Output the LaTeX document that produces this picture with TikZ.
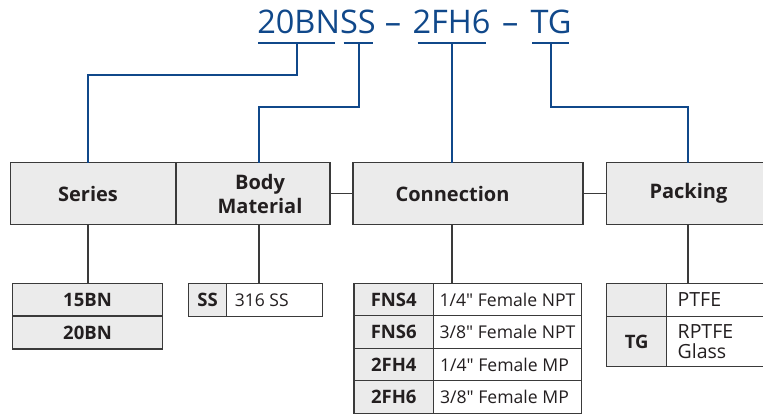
\documentclass[tikz,border=0pt]{standalone}
\usepackage{fontspec}
\setmainfont{Open Sans}
\definecolor{codeblue}{HTML}{10488A}
\definecolor{edgegray}{HTML}{3A3A3A}
\definecolor{cellgray}{HTML}{EBEBEB}
\definecolor{inkdark}{HTML}{231F20}
\begin{document}
\begin{tikzpicture}[x=1pt,y=-1pt,
  titletext/.style={inner sep=0pt, anchor=base, text=codeblue, font=\fontsize{32.5}{36}\selectfont},
  bluelink/.style={draw=codeblue, line width=1.8pt},
  graylink/.style={draw=edgegray, line width=1.3pt},
  headbox/.style={draw=edgegray, fill=cellgray, line width=1.3pt, inner sep=0pt, outer sep=0pt, anchor=north west},
  graycell/.style={draw=edgegray, fill=cellgray, line width=1.2pt, inner sep=0pt, outer sep=0pt, anchor=north west},
  whitecell/.style={draw=edgegray, fill=white, line width=1.2pt, inner sep=0pt, outer sep=0pt, anchor=north west},
  headtext/.style={inner sep=0pt, text=inkdark, font=\bfseries\fontsize{20}{24}\selectfont, align=center},
  codetext/.style={inner sep=0pt, text=inkdark, font=\bfseries\fontsize{18.5}{22}\selectfont},
  desctext/.style={inner sep=0pt, text=inkdark, font=\fontsize{17.6}{20}\selectfont},
  packtext/.style={inner sep=0pt, text=inkdark, font=\fontsize{19.5}{20}\selectfont, align=left, anchor=west}
]
\useasboundingbox (0,0) rectangle (763,418);
\begin{scope}
\clip (0,0) rectangle (763,418);

% title
\node[titletext] (t1) at (316.5,33.3) {20BNSS};
\node[titletext] (t2) at (393,33.3) {–};
\node[titletext] (t3) at (451.5,33.3) {2FH6};
\node[titletext] (t4) at (510.3,33.3) {–};
\node[titletext] (t5) at (551,33.3) {TG};

% underlines
\coordinate (u1a) at (258,43); \coordinate (u1b) at (335,43);
\coordinate (u2a) at (343.5,43); \coordinate (u2b) at (373,43);
\coordinate (u3a) at (417.5,43); \coordinate (u3b) at (485.6,43);
\coordinate (u4a) at (532,43); \coordinate (u4b) at (569,43);
\draw[bluelink] (u1a) -- (u1b);
\draw[bluelink] (u2a) -- (u2b);
\draw[bluelink] (u3a) -- (u3b);
\draw[bluelink] (u4a) -- (u4b);

% header boxes
\node[headbox, minimum width=165.3pt, minimum height=62pt] (series) at (10.7,162.7) {};
\node[headbox, minimum width=154pt, minimum height=62pt] (body) at (176,162.7) {};
\node[headbox, minimum width=230pt, minimum height=62pt] (conn) at (353,162.7) {};
\node[headbox, minimum width=200pt, minimum height=62pt] (pack) at (606.7,162.7) {};
\node[headtext] (seriesL) at (88,194) {Series};
\node[headtext] (bodyL) at (260,194) {Body\\Material};
\node[headtext] (connL) at (452.5,194) {Connection};
\node[headtext] (packL) at (688.5,193) {Packing};

% blue connectors
\coordinate (s1) at (297,43); \coordinate (j1) at (88,75);
\coordinate (s2) at (359,43); \coordinate (j2) at (259,107);
\coordinate (s3) at (452,43);
\coordinate (s4) at (551,43); \coordinate (j4) at (688,107);
\draw[bluelink] (s1) |- (j1) -- (j1 |- series.north);
\draw[bluelink] (s2) |- (j2) -- (j2 |- body.north);
\draw[bluelink] (s3) -- (s3 |- conn.north);
\draw[bluelink] (s4) |- (j4) -- (j4 |- pack.north);

% gray links between header boxes
\draw[graylink] (body.east) -- (conn.west);
\draw[graylink] (conn.east) -- (pack.west);

% series table
\node[graycell, minimum width=150.4pt, minimum height=32.7pt] (sr1) at (12.3,283.3) {};
\node[graycell, minimum width=150.4pt, minimum height=33pt] (sr2) at (12.3,316) {};
\node[codetext] (sr1L) at (sr1.center) {15BN};
\node[codetext] (sr2L) at (sr2.center) {20BN};

% body material table
\node[graycell, minimum width=38.4pt, minimum height=33pt] (ssA) at (188.3,283.3) {};
\node[whitecell, minimum width=95.6pt, minimum height=33pt] (ssB) at (226.7,283.3) {};
\node[codetext] (ssAL) at (ssA.center) {SS};
\node[desctext, anchor=west, font=\fontsize{17.5}{20}\selectfont] (ssBL) at (234.7,300) {316 SS};

% connection table
\node[graycell, minimum width=79.5pt, minimum height=32.5pt] (cA1) at (354,283.3) {};
\node[graycell, minimum width=79.5pt, minimum height=32.5pt] (cA2) at (354,315.8) {};
\node[graycell, minimum width=79.5pt, minimum height=32.5pt] (cA3) at (354,348.3) {};
\node[graycell, minimum width=79.5pt, minimum height=32.5pt] (cA4) at (354,380.8) {};
\node[whitecell, minimum width=148pt, minimum height=32.5pt] (cB1) at (433.5,283.3) {};
\node[whitecell, minimum width=148pt, minimum height=32.5pt] (cB2) at (433.5,315.8) {};
\node[whitecell, minimum width=148pt, minimum height=32.5pt] (cB3) at (433.5,348.3) {};
\node[whitecell, minimum width=148pt, minimum height=32.5pt] (cB4) at (433.5,380.8) {};
\node[codetext] (cA1L) at (cA1.center) {FNS4};
\node[codetext] (cA2L) at (cA2.center) {FNS6};
\node[codetext] (cA3L) at (cA3.center) {2FH4};
\node[codetext] (cA4L) at (cA4.center) {2FH6};
\node[desctext] (cB1L) at (cB1.center) {1/4\textquotedbl\ Female NPT};
\node[desctext] (cB2L) at (cB2.center) {3/8\textquotedbl\ Female NPT};
\node[desctext] (cB3L) at ([xshift=-3pt]cB3.center) {1/4\textquotedbl\ Female MP};
\node[desctext] (cB4L) at ([xshift=-3pt]cB4.center) {3/8\textquotedbl\ Female MP};

% packing table
\node[graycell, minimum width=60pt, minimum height=33.2pt] (pA1) at (606.7,283.3) {};
\node[graycell, minimum width=60pt, minimum height=50.2pt] (pA2) at (606.7,316.5) {};
\node[whitecell, minimum width=140pt, minimum height=33.2pt] (pB1) at (666.7,283.3) {};
\node[whitecell, minimum width=140pt, minimum height=50.2pt] (pB2) at (666.7,316.5) {};
\node[codetext] (pA2L) at (pA2.center) {TG};
\node[packtext] (pB1L) at (677.5,300) {PTFE};
\node[packtext] (pB2L) at (677.5,341.5) {RPTFE\\Glass};

% gray links down to tables
\draw[graylink] (j1 |- series.south) -- (j1 |- sr1.north);
\draw[graylink] (j2 |- body.south) -- (j2 |- ssA.north);
\draw[graylink] (s3 |- conn.south) -- (s3 |- cA1.north);
\draw[graylink] (j4 |- pack.south) -- (j4 |- pB1.north);
\end{scope}
\end{tikzpicture}
\end{document}
